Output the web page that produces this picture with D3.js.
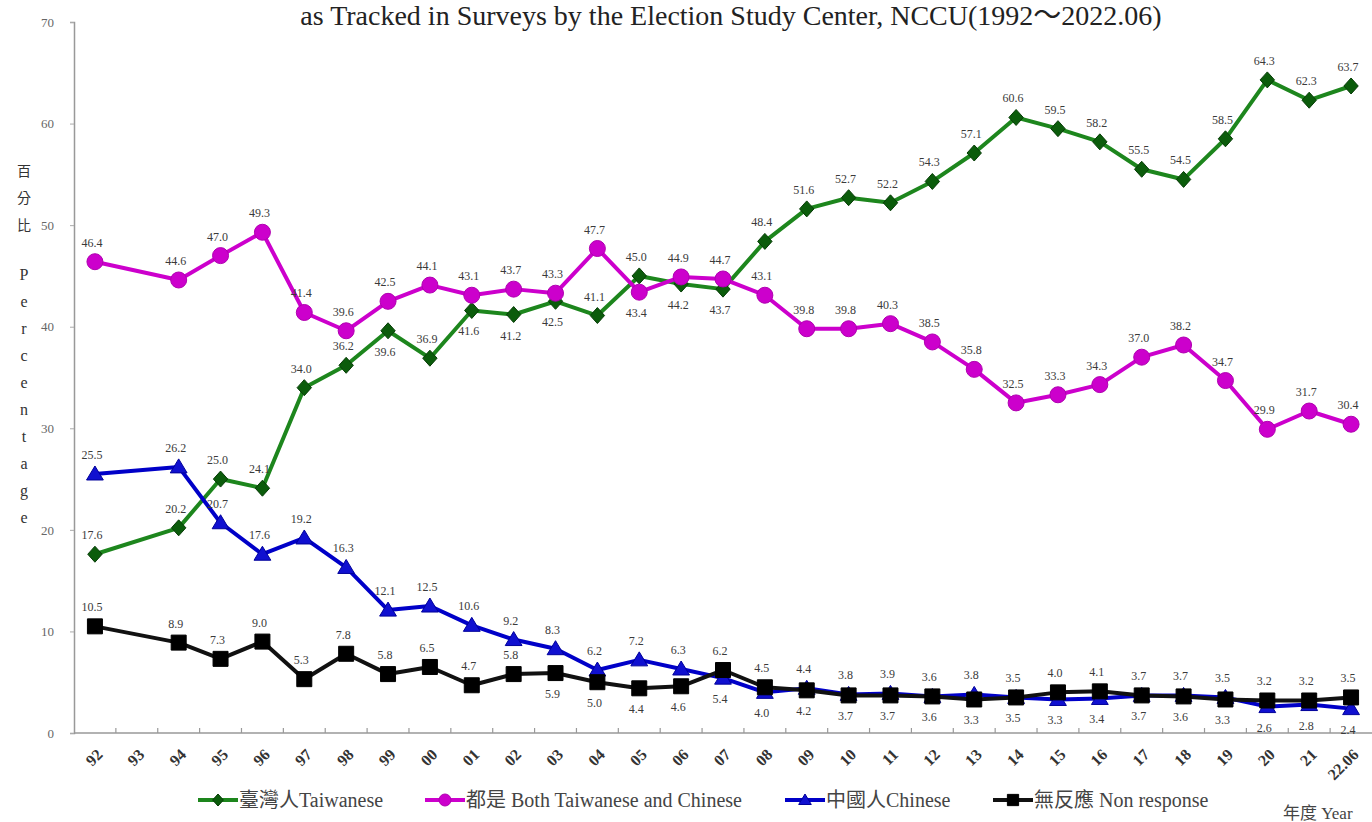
<!DOCTYPE html>
<html>
<head>
<meta charset="utf-8">
<script src="https://cdn.jsdelivr.net/npm/d3@7"></script>
<style>
  html, body { margin: 0; padding: 0; background: #fff; }
  svg { display: block; }
  .serif { font-family: "Liberation Serif", "DejaVu Serif", "Noto Sans CJK TC", serif; }
</style>
</head>
<body>
<svg id="chart" width="1372" height="822"></svg>
<script>
// Survey years (ROC-style two-digit labels), 93 had no survey
const years = ["92","93","94","95","96","97","98","99","00","01","02","03","04","05","06","07","08","09","10","11","12","13","14","15","16","17","18","19","20","21","22.06"];

const taiwanese = [17.6, null, 20.2, 25.0, 24.1, 34.0, 36.2, 39.6, 36.9, 41.6, 41.2, 42.5, 41.1, 45.0, 44.2, 43.7, 48.4, 51.6, 52.7, 52.2, 54.3, 57.1, 60.6, 59.5, 58.2, 55.5, 54.5, 58.5, 64.3, 62.3, 63.7];
const both      = [46.4, null, 44.6, 47.0, 49.3, 41.4, 39.6, 42.5, 44.1, 43.1, 43.7, 43.3, 47.7, 43.4, 44.9, 44.7, 43.1, 39.8, 39.8, 40.3, 38.5, 35.8, 32.5, 33.3, 34.3, 37.0, 38.2, 34.7, 29.9, 31.7, 30.4];
const chinese   = [25.5, null, 26.2, 20.7, 17.6, 19.2, 16.3, 12.1, 12.5, 10.6, 9.2, 8.3, 6.2, 7.2, 6.3, 5.4, 4.0, 4.4, 3.8, 3.9, 3.6, 3.8, 3.5, 3.3, 3.4, 3.7, 3.7, 3.5, 2.6, 2.8, 2.4];
const nonResp   = [10.5, null, 8.9, 7.3, 9.0, 5.3, 7.8, 5.8, 6.5, 4.7, 5.8, 5.9, 5.0, 4.4, 4.6, 6.2, 4.5, 4.2, 3.7, 3.7, 3.6, 3.3, 3.5, 4.0, 4.1, 3.7, 3.6, 3.3, 3.2, 3.2, 3.5];

const yTicks = [0, 10, 20, 30, 40, 50, 60, 70];

const seriesNames = ["臺灣人Taiwanese", "都是 Both Taiwanese and Chinese", "中國人Chinese", "無反應 Non response"];

// value label side per point: a = above, b = below, x = no survey
const sideTW = "ax" + "aaaaa" + "b" + "a" + "bbb" + "aa" + "bb" + "a" + "aaaaaaaaaaaaaa";
const sideBO = "ax" + "aaaaaaaaaaa" + "b" + "aaaaaaaaaaaaaaaaa";
const sideCH = "ax" + "aaaaaaaaaaaaa" + "bb" + "aaaaaa" + "bb" + "aaa" + "bbb";
const sideNR = "ax" + "aaaaaaaaa" + "bbbb" + "aa" + "bbbbbb" + "aa" + "bbb" + "aaa";

const serifFont = "Liberation Serif, DejaVu Serif, Noto Sans CJK TC, serif";

const svg = d3.select("#chart");
const plotL = 74, plotR = 1372, plotT = 22, plotB = 733;

const x = d3.scalePoint().domain(years).range([plotL, plotR]).padding(0.5);
const step = x.step();
const y = d3.scaleLinear().domain([0, 70]).range([plotB, plotT]);

// title (second line of the heading)
svg.append("text").attr("class", "serif").attr("font-family", serifFont)
  .attr("x", 731).attr("y", 25)
  .attr("text-anchor", "middle")
  .attr("font-size", 28).attr("fill", "#222")
  .text("as Tracked in Surveys by the Election Study Center, NCCU(1992～2022.06)");

// y axis
const yAxis = d3.axisLeft(y).tickValues(yTicks).tickSize(4).tickPadding(16).tickFormat(d3.format("d"));
const gy = svg.append("g").attr("transform", `translate(${plotL},0)`).call(yAxis);
gy.select(".domain").attr("stroke", "#999").attr("stroke-width", 1.5);
gy.selectAll(".tick line").attr("stroke", "#aaa");
gy.selectAll(".tick text").attr("class", "serif").attr("font-family", serifFont).attr("font-size", 13).attr("fill", "#666");

// x axis line with boundary ticks
svg.append("line").attr("x1", plotL).attr("x2", plotR).attr("y1", plotB).attr("y2", plotB)
  .attr("stroke", "#999").attr("stroke-width", 1.5);
svg.append("g").selectAll("line").data(years.slice(1)).join("line")
  .attr("x1", d => x(d) - step / 2).attr("x2", d => x(d) - step / 2)
  .attr("y1", plotB).attr("y2", plotB - 5)
  .attr("stroke", "#999").attr("stroke-width", 1.2);

// rotated year labels
svg.append("g").selectAll("text").data(years).join("text")
  .attr("class", "serif").attr("font-family", serifFont)
  .attr("transform", d => `translate(${x(d) + 6},${plotB + 20}) rotate(-45)`)
  .attr("text-anchor", "end").attr("dominant-baseline", "middle")
  .attr("font-size", 16).attr("font-weight", "bold").attr("fill", "#333")
  .text(d => d);

// y axis title, stacked vertically
const yTitleCJK = ["百", "分", "比"];
svg.append("g").selectAll("text").data(yTitleCJK).join("text")
  .attr("x", 24).attr("y", (d, i) => 176 + i * 27)
  .attr("text-anchor", "middle")
  .attr("font-family", "Noto Sans CJK TC").attr("font-size", 14).attr("fill", "#333")
  .text(d => d);
const yTitleEN = "Percentage".split("");
svg.append("g").selectAll("text").data(yTitleEN).join("text")
  .attr("class", "serif").attr("font-family", serifFont)
  .attr("x", 24).attr("y", (d, i) => 280 + i * 27)
  .attr("text-anchor", "middle")
  .attr("font-size", 16).attr("fill", "#333")
  .text(d => d);

// marker shapes
const marker = {
  diamond: (s) => `M0,${-s}L${s * 0.9},0L0,${s}L${-s * 0.9},0Z`,
  circle: (s) => d3.symbol(d3.symbolCircle, Math.PI * s * s)(),
  triangle: (s) => `M0,${-s}L${s * 1.05},${s * 0.75}L${-s * 1.05},${s * 0.75}Z`,
  square: (s) => `M${-s},${-s}H${s}V${s}H${-s}Z`
};

const series = [
  { name: seriesNames[0], values: taiwanese, side: sideTW, line: "#1d861d", fill: "#0b5c0b", stroke: "#073d07", shape: "diamond", size: 8 },
  { name: seriesNames[1], values: both, side: sideBO, line: "#cc00cc", fill: "#cc00cc", stroke: "#b000b0", shape: "circle", size: 8 },
  { name: seriesNames[2], values: chinese, side: sideCH, line: "#0000c8", fill: "#1010d0", stroke: "#00009a", shape: "triangle", size: 8 },
  { name: seriesNames[3], values: nonResp, side: sideNR, line: "#111", fill: "#000", stroke: "#000", shape: "square", size: 7.5 }
];

const lineGen = d3.line().x(d => x(d.year)).y(d => y(d.v));

series.forEach(s => {
  const pts = years.map((yr, i) => ({ year: yr, v: s.values[i], side: s.side[i] })).filter(p => p.v != null);
  const g = svg.append("g");
  g.append("path").datum(pts).attr("d", lineGen)
    .attr("fill", "none").attr("stroke", s.line).attr("stroke-width", 4).attr("stroke-linejoin", "round");
  g.selectAll("path.m").data(pts).join("path").attr("class", "m")
    .attr("transform", p => `translate(${x(p.year)},${y(p.v)})`)
    .attr("d", marker[s.shape](s.size))
    .attr("fill", s.fill).attr("stroke", s.stroke).attr("stroke-width", 1);
  s.pts = pts;
});

// value labels
series.forEach(s => {
  svg.append("g").selectAll("text").data(s.pts).join("text")
    .attr("class", "serif").attr("font-family", serifFont)
    .attr("x", p => x(p.year) - 3)
    .attr("y", p => p.side === "b" ? y(p.v) + 25 : y(p.v) - 15)
    .attr("text-anchor", "middle")
    .attr("font-size", 12).attr("fill", "#3a3a3a")
    .text(p => d3.format(".1f")(p.v));
});

// legend
const legendX = [198, 425, 785, 993];
const lg = svg.append("g");
series.forEach((s, i) => {
  const gx = lg.append("g").attr("transform", `translate(${legendX[i]},800)`);
  gx.append("line").attr("x1", 0).attr("x2", 40).attr("stroke", s.line).attr("stroke-width", 4);
  gx.append("path").attr("transform", "translate(20,0)").attr("d", marker[s.shape](s.size * 0.75))
    .attr("fill", s.fill).attr("stroke", s.stroke);
  gx.append("text").attr("class", "serif").attr("font-family", serifFont)
    .attr("x", 41).attr("y", 7)
    .attr("font-size", 20).attr("fill", "#444")
    .text(s.name);
});

svg.append("text").attr("class", "serif").attr("font-family", serifFont)
  .attr("x", 1283).attr("y", 819)
  .attr("font-size", 17).attr("fill", "#444")
  .text("年度 Year");
</script>
</body>
</html>
